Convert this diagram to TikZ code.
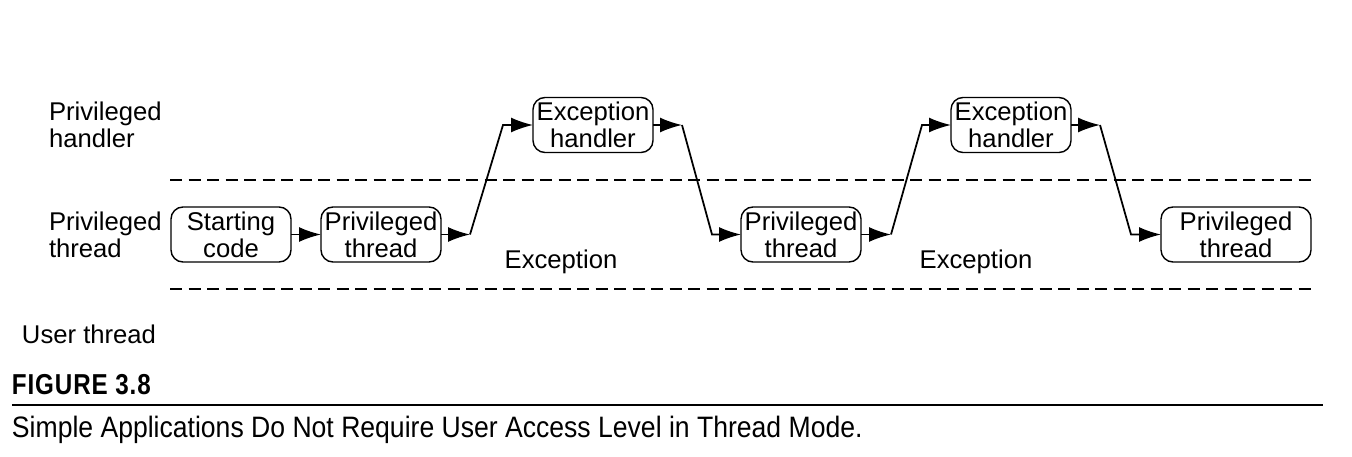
\documentclass[tikz,border=0pt]{standalone}
\usepackage{fontspec}
\setmainfont{Liberation Sans}
\newfontfamily\figfont[FakeStretch=0.84, LetterSpace=3]{Liberation Sans}
\newfontfamily\capfont[FakeStretch=0.90]{Liberation Sans}
\usetikzlibrary{positioning,calc,arrows.meta}

\begin{document}
\begin{tikzpicture}[
    node distance=3mm,
    outer sep=0pt,
    stage/.style={draw, rounded corners=1.2mm, minimum width=12mm, minimum height=5.5mm, align=center, inner sep=0pt, font=\fontsize{7.3}{7.7}\selectfont},
    lane/.style={anchor=west, inner sep=0pt, align=left, font=\fontsize{7.3}{7.7}\selectfont},
    note/.style={inner sep=0pt, font=\fontsize{7.3}{7.7}\selectfont},
    level/.style={dash pattern=on 1.2mm off 0.65mm, line width=0.6pt},
    flow/.style={-{Latex[length=2.2mm, width=1.5mm]}, line width=0.5pt}
]
    \useasboundingbox (0,0) rectangle (13.52,4.56);

    % access levels
    \node [lane] (hnd) at (0.49,3.31) {Privileged\\handler};
    \node [lane] (thr) at (0.49,2.215) {Privileged\\thread};
    \node [lane] (usr) at (0.22,1.22) {User thread};
    \draw [level] (1.70,2.76) -- (13.12,2.76);
    \draw [level] (1.70,1.67) -- (13.12,1.67);

    % program flow
    \node [stage] (start) at (2.31,2.215) {Starting\\code};
    \node [stage, right=of start] (thr1) {Privileged\\thread};
    \node [stage, right=9.2mm of thr1, yshift=10.95mm] (eh1) {Exception\\handler};
    \node [stage, right=8.8mm of eh1, yshift=-10.95mm] (thr2) {Privileged\\thread};
    \node [stage, right=9mm of thr2, yshift=10.95mm] (eh2) {Exception\\handler};
    \node [stage, right=9mm of eh2, yshift=-10.95mm, minimum width=15mm] (thr3) {Privileged\\thread};

    \node [note] (exc1) at (5.61,1.94) {Exception};
    \node [note] (exc2) at (9.76,1.94) {Exception};

    \draw [flow] (start) -- (thr1);
    \draw [flow] (thr1.east) -- ++(2.9mm,0) coordinate (up1);
    \draw [flow] (up1) -- ($(eh1.west)+(-3mm,0)$) -- (eh1.west);
    \draw [flow] (eh1.east) -- ++(2.9mm,0) coordinate (dn1);
    \draw [flow] (dn1) -- ($(thr2.west)+(-2.9mm,0)$) -- (thr2.west);
    \draw [flow] (thr2.east) -- ++(3mm,0) coordinate (up2);
    \draw [flow] (up2) -- ($(eh2.west)+(-2.9mm,0)$) -- (eh2.west);
    \draw [flow] (eh2.east) -- ++(2.9mm,0) coordinate (dn2);
    \draw [flow] (dn2) -- ($(thr3.west)+(-3mm,0)$) -- (thr3.west);

    % caption
    \node [anchor=west, inner sep=0pt, font=\figfont\bfseries\fontsize{8.2}{9}\selectfont] (fig) at (0.12,0.71) {FIGURE 3.8};
    \draw [line width=0.5pt] (0.12,0.51) -- (13.23,0.51);
    \node [anchor=west, inner sep=0pt, font=\capfont\fontsize{8.4}{9}\selectfont] (cap) at (0.12,0.265) {Simple Applications Do Not Require User Access Level in Thread Mode.};
\end{tikzpicture}
\end{document}
